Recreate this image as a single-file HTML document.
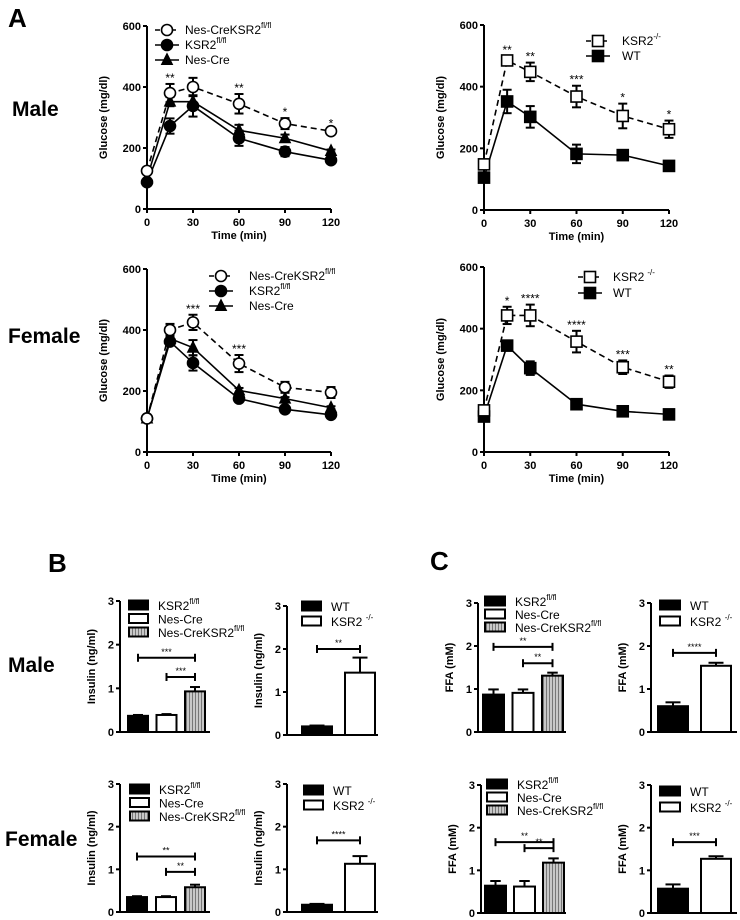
<!DOCTYPE html>
<html><head><meta charset="utf-8"><style>
html,body{margin:0;padding:0;background:#fff;}
svg{display:block;font-family:"Liberation Sans",Arial,sans-serif;}
.tk{font-size:11px;font-weight:bold;}
.ttl{font-size:11px;font-weight:bold;}
.lg{font-size:12px;}
.big{font-size:21px;font-weight:bold;}
</style></head><body>
<svg id="fig" width="740" height="920" viewBox="0 0 740 920" xmlns="http://www.w3.org/2000/svg">
<defs>
<pattern id="hatch" width="3" height="4" patternUnits="userSpaceOnUse">
<rect width="3" height="4" fill="#c8c8c8"/><rect width="1" height="4" fill="#777"/>
</pattern>
</defs>
<text class="big" x="8" y="27" style="font-size:26px">A</text>
<text class="big" x="48" y="572" style="font-size:26px">B</text>
<text class="big" x="430" y="570" style="font-size:26px">C</text>
<text class="big" x="12" y="116">Male</text>
<text class="big" x="8" y="343">Female</text>
<text class="big" x="8" y="672">Male</text>
<text class="big" x="5" y="846">Female</text>
</svg>
<script>
// ---------- Line chart data (glucose, mg/dl) ----------
const times = [0, 15, 30, 60, 90, 120];
const xTicks = [0, 30, 60, 90, 120];
const glucoseTicks = [0, 200, 400, 600];
// Male left
const mlNesKsr = [125, 380, 400, 345, 280, 255];
const mlNesKsrErr = [0, 30, 30, 32, 18, 5];
const mlKsrFl = [88, 272, 338, 232, 188, 160];
const mlKsrFlErr = [0, 25, 35, 25, 15, 5];
const mlNesCre = [100, 352, 352, 258, 232, 190];
const mlNesCreErr = [0, 15, 20, 18, 12, 5];
const mlStars = ['', '**', '', '**', '*', '*'];
// Male right
const mrKo = [148, 485, 448, 368, 305, 262];
const mrKoErr = [10, 15, 30, 35, 40, 28];
const mrWt = [105, 352, 302, 182, 178, 143];
const mrWtErr = [5, 38, 35, 30, 5, 5];
const mrStars = ['', '**', '**', '***', '*', '*'];
// Female left
const flNesKsr = [110, 400, 425, 290, 212, 195];
const flNesKsrErr = [0, 20, 25, 28, 18, 18];
const flKsrFl = [110, 362, 292, 175, 140, 122];
const flKsrFlErr = [0, 10, 25, 10, 5, 5];
const flNesCre = [110, 372, 342, 202, 175, 145];
const flNesCreErr = [0, 10, 25, 8, 5, 5];
const flStars = ['', '', '***', '***', '', ''];
// Female right
const frKo = [135, 443, 443, 358, 275, 228];
const frKoErr = [5, 28, 35, 35, 22, 20];
const frWt = [115, 345, 272, 155, 132, 122];
const frWtErr = [5, 10, 22, 5, 5, 5];
const frStars = ['', '*', '****', '****', '***', '**'];

// ---------- Bar chart data ----------
const barTicks = [0, 1, 2, 3];
const insMaleTrio = [0.37, 0.39, 0.93];
const insMaleTrioErr = [0.02, 0.02, 0.1];
const insMaleDuo = [0.2, 1.45];
const insMaleDuoErr = [0.02, 0.35];
const insFemTrio = [0.35, 0.35, 0.58];
const insFemTrioErr = [0.02, 0.02, 0.06];
const insFemDuo = [0.17, 1.13];
const insFemDuoErr = [0.02, 0.18];
const ffaMaleTrio = [0.87, 0.91, 1.31];
const ffaMaleTrioErr = [0.12, 0.08, 0.07];
const ffaMaleDuo = [0.6, 1.54];
const ffaMaleDuoErr = [0.09, 0.07];
const ffaFemTrio = [0.64, 0.62, 1.18];
const ffaFemTrioErr = [0.11, 0.13, 0.1];
const ffaFemDuo = [0.57, 1.27];
const ffaFemDuoErr = [0.1, 0.06];

const NS = 'http://www.w3.org/2000/svg';
const svg = document.getElementById('fig');
function el(tag, attrs, parent, text) {
  const e = document.createElementNS(NS, tag);
  for (const k in attrs) e.setAttribute(k, attrs[k]);
  if (text !== undefined) e.textContent = text;
  (parent || svg).appendChild(e);
  return e;
}
function marker(g, shape, filled, cx, cy, r) {
  const fill = filled ? '#000' : '#fff';
  let m;
  if (shape === 'circle') m = el('circle', {cx: cx, cy: cy, r: r, fill: fill, stroke: '#000', 'stroke-width': 1.6}, g);
  else if (shape === 'square') m = el('rect', {x: cx - r, y: cy - r, width: 2 * r, height: 2 * r, fill: fill, stroke: '#000', 'stroke-width': 1.6}, g);
  else m = el('polygon', {points: `${cx},${cy - r - 1} ${cx - r},${cy + r - 1} ${cx + r},${cy + r - 1}`, fill: fill, stroke: '#000', 'stroke-width': 1}, g);
  return m;
}
function supText(g, x, y, base, sup, supDx) {
  const t = el('text', {x: x, y: y, class: 'lg'}, g);
  el('tspan', {}, t, base);
  if (sup) el('tspan', {dy: -6, dx: supDx || 0, 'font-size': 8}, t, sup);
  return t;
}

function lineChart(cfg) {
  const g = el('g', {});
  
  
  const sx = v => cfg.x0 + (v - 0) / 120 * (cfg.x1 - cfg.x0);
  const sy = v => cfg.yb - v / 600 * (cfg.yb - cfg.yt);
  const ya = el('line', {x1: cfg.x0, y1: cfg.yt, x2: cfg.x0, y2: cfg.yb, stroke: '#000', 'stroke-width': 2}, g);
  
  
  const xa = el('line', {x1: cfg.x0, y1: cfg.yb, x2: cfg.x1, y2: cfg.yb, stroke: '#000', 'stroke-width': 2}, g);
  
  
  glucoseTicks.forEach(t => {
    el('line', {x1: cfg.x0 - 4, y1: sy(t), x2: cfg.x0, y2: sy(t), stroke: '#000', 'stroke-width': 2}, g);
    const tl = el('text', {x: cfg.x0 - 6, y: sy(t) + 4, 'text-anchor': 'end', class: 'tk'}, g, String(t));
    
    
  });
  xTicks.forEach(t => {
    el('line', {x1: sx(t), y1: cfg.yb, x2: sx(t), y2: cfg.yb + 4, stroke: '#000', 'stroke-width': 2}, g);
    const tl = el('text', {x: sx(t), y: cfg.yb + 17, 'text-anchor': 'middle', class: 'tk'}, g, String(t));
    
    
  });
  const xt = el('text', {x: (cfg.x0 + cfg.x1) / 2, y: cfg.yb + 30, 'text-anchor': 'middle', class: 'ttl', 'xml:space': 'preserve'}, g, 'Time  (min)');
  
  
  const ytx = cfg.x0 - 40, yty = (cfg.yt + cfg.yb) / 2;
  const yt = el('text', {x: ytx, y: yty, 'text-anchor': 'middle', class: 'ttl', transform: `rotate(-90 ${ytx} ${yty})`}, g, 'Glucose (mg/dl)');
  
  
  cfg.series.slice().reverse().forEach(s => {
    const sg = el('g', {}, g);
    
    
    const pts = times.map((t, i) => sx(t) + ',' + sy(s.vals[i])).join(' ');
    el('polyline', {points: pts, fill: 'none', stroke: '#000', 'stroke-width': 1.6, 'stroke-dasharray': s.dash ? '6,4' : 'none'}, sg);
    times.forEach((t, i) => {
      const e = s.err[i];
      if (e > 0) {
        el('line', {x1: sx(t), y1: sy(s.vals[i] - e), x2: sx(t), y2: sy(s.vals[i] + e), stroke: '#000', 'stroke-width': 2}, sg);
        el('line', {x1: sx(t) - 4.5, y1: sy(s.vals[i] + e), x2: sx(t) + 4.5, y2: sy(s.vals[i] + e), stroke: '#000', 'stroke-width': 2}, sg);
        el('line', {x1: sx(t) - 4.5, y1: sy(s.vals[i] - e), x2: sx(t) + 4.5, y2: sy(s.vals[i] - e), stroke: '#000', 'stroke-width': 2}, sg);
      }
      const m = marker(sg, s.shape, s.filled, sx(t), sy(s.vals[i]), 5.5);
      
      
    });
  });
  const top = cfg.series[0];
  cfg.stars.forEach((st, i) => {
    if (!st) return;
    const y = sy(top.vals[i] + top.err[i]) - 5;
    const s = el('text', {x: sx(times[i]), y: y + 3, 'text-anchor': 'middle', 'font-size': 12}, g, st);
    
    
  });
  cfg.series.forEach((s, i) => {
    const ly = cfg.ly + i * cfg.lgap;
    const lg = el('g', {}, g);
    
    
    el('line', {x1: cfg.lx - 12, y1: ly, x2: cfg.lx + 12, y2: ly, stroke: '#000', 'stroke-width': 1.6, 'stroke-dasharray': s.dash ? '5,3' : 'none'}, lg);
    marker(lg, s.shape, s.filled, cfg.lx, ly, 5.5);
    supText(lg, cfg.lx + cfg.ltx, ly + 4, s.label, s.sup, s.supDx);
  });
}

lineChart({name: 'male-conditional-glucose-chart', x0: 147, x1: 331, yt: 26, yb: 209, lx: 167, ly: 30, lgap: 15, ltx: 18, stars: mlStars,
  series: [
    {id: 'nes-cre-ksr2', vals: mlNesKsr, err: mlNesKsrErr, shape: 'circle', filled: false, dash: true, label: 'Nes-CreKSR2', sup: 'fl/fl'},
    {id: 'ksr2-flfl', vals: mlKsrFl, err: mlKsrFlErr, shape: 'circle', filled: true, label: 'KSR2', sup: 'fl/fl'},
    {id: 'nes-cre', vals: mlNesCre, err: mlNesCreErr, shape: 'tri', filled: true, label: 'Nes-Cre'}]});
lineChart({name: 'male-knockout-glucose-chart', x0: 484, x1: 669, yt: 25, yb: 210, lx: 598, ly: 41, lgap: 15, ltx: 24, stars: mrStars,
  series: [
    {id: 'ksr2-ko', vals: mrKo, err: mrKoErr, shape: 'square', filled: false, dash: true, label: 'KSR2', sup: '-/-'},
    {id: 'wt', vals: mrWt, err: mrWtErr, shape: 'square', filled: true, label: 'WT'}]});
lineChart({name: 'female-conditional-glucose-chart', x0: 147, x1: 331, yt: 269, yb: 452, lx: 221, ly: 276, lgap: 15, ltx: 28, stars: flStars,
  series: [
    {id: 'nes-cre-ksr2', vals: flNesKsr, err: flNesKsrErr, shape: 'circle', filled: false, dash: true, label: 'Nes-CreKSR2', sup: 'fl/fl'},
    {id: 'ksr2-flfl', vals: flKsrFl, err: flKsrFlErr, shape: 'circle', filled: true, label: 'KSR2', sup: 'fl/fl'},
    {id: 'nes-cre', vals: flNesCre, err: flNesCreErr, shape: 'tri', filled: true, label: 'Nes-Cre'}]});
lineChart({name: 'female-knockout-glucose-chart', x0: 484, x1: 669, yt: 267, yb: 452, lx: 590, ly: 277, lgap: 16, ltx: 23, stars: frStars,
  series: [
    {id: 'ksr2-ko', vals: frKo, err: frKoErr, shape: 'square', filled: false, dash: true, label: 'KSR2', sup: '-/-', supDx: 3},
    {id: 'wt', vals: frWt, err: frWtErr, shape: 'square', filled: true, label: 'WT'}]});

const fills = ['#000', '#fff', 'url(#hatch)'];
const trioLabels = [['KSR2', 'fl/fl'], ['Nes-Cre', ''], ['Nes-CreKSR2', 'fl/fl']];
const duoLabels = [['WT', ''], ['KSR2 ', '-/-']];
function barChart(cfg) {
  const g = el('g', {});
  
  
  const sy = v => cfg.yb - v / 3 * (cfg.yb - cfg.yt);
  const ya = el('line', {x1: cfg.x0, y1: cfg.yt, x2: cfg.x0, y2: cfg.yb, stroke: '#000', 'stroke-width': 2}, g);
  
  
  const xa = el('line', {x1: cfg.x0, y1: cfg.yb, x2: cfg.x1, y2: cfg.yb, stroke: '#000', 'stroke-width': 2}, g);
  
  
  barTicks.forEach(t => {
    el('line', {x1: cfg.x0 - 4, y1: sy(t), x2: cfg.x0, y2: sy(t), stroke: '#000', 'stroke-width': 2}, g);
    const tl = el('text', {x: cfg.x0 - 6, y: sy(t) + 4, 'text-anchor': 'end', class: 'tk'}, g, String(t));
    
    
  });
  const ytx = cfg.x0 - 25, yty = (cfg.yt + cfg.yb) / 2;
  const yt = el('text', {x: ytx, y: yty, 'text-anchor': 'middle', class: 'ttl', transform: `rotate(-90 ${ytx} ${yty})`}, g, cfg.ytitle);
  
  
  const n = cfg.vals.length;
  const centers = [];
  cfg.vals.forEach((v, i) => {
    const bx = cfg.bx + i * cfg.step;
    const cx = bx + cfg.bw / 2;
    centers.push(cx);
    const e = cfg.err[i];
    el('line', {x1: cx, y1: sy(v), x2: cx, y2: sy(v + e), stroke: '#000', 'stroke-width': 2}, g);
    el('line', {x1: cx - cfg.bw / 4, y1: sy(v + e), x2: cx + cfg.bw / 4, y2: sy(v + e), stroke: '#000', 'stroke-width': 2}, g);
    const b = el('rect', {x: bx, y: sy(v), width: cfg.bw, height: cfg.yb - sy(v), fill: fills[i], stroke: '#000', 'stroke-width': 2}, g);
    
    
  });
  cfg.brackets.forEach(br => {
    const y = sy(br.y);
    const x1 = centers[br.a], x2 = centers[br.b];
    const bg = el('g', {}, g);
    
    
    el('line', {x1: x1, y1: y, x2: x2, y2: y, stroke: '#000', 'stroke-width': 2}, bg);
    el('line', {x1: x1, y1: y - 4, x2: x1, y2: y + 4, stroke: '#000', 'stroke-width': 2}, bg);
    el('line', {x1: x2, y1: y - 4, x2: x2, y2: y + 4, stroke: '#000', 'stroke-width': 2}, bg);
    el('text', {x: (x1 + x2) / 2, y: y - 3, 'text-anchor': 'middle', 'font-size': 9}, bg, br.s);
  });
  const labels = n === 3 ? trioLabels : duoLabels;
  labels.forEach((lb, i) => {
    const ly = cfg.ly + i * cfg.lgap;
    const lg = el('g', {}, g);
    
    
    el('rect', {x: cfg.lx, y: ly - 4.5, width: cfg.lw, height: 9, fill: fills[i], stroke: '#000', 'stroke-width': 2}, lg);
    supText(lg, cfg.lx + cfg.lw + 10, ly + 5, lb[0], lb[1]);
  });
}
const ins = 'Insulin (ng/ml)', ffa = 'FFA (mM)';
barChart({name: 'male-insulin-conditional', x0: 120, x1: 210, yt: 601, yb: 732, bx: 128, bw: 20, step: 28.5, vals: insMaleTrio, err: insMaleTrioErr, ytitle: ins, lx: 129, lw: 19, ly: 605, lgap: 13.5,
  brackets: [{a: 0, b: 2, y: 1.7, s: '***'}, {a: 1, b: 2, y: 1.26, s: '***'}]});
barChart({name: 'male-insulin-knockout', x0: 287, x1: 378, yt: 606, yb: 735, bx: 302, bw: 30, step: 43, vals: insMaleDuo, err: insMaleDuoErr, ytitle: ins, lx: 302, lw: 19, ly: 606, lgap: 15,
  brackets: [{a: 0, b: 1, y: 2.0, s: '**'}]});
barChart({name: 'female-insulin-conditional', x0: 120, x1: 210, yt: 784, yb: 912, bx: 127, bw: 20, step: 29, vals: insFemTrio, err: insFemTrioErr, ytitle: ins, lx: 130, lw: 19, ly: 789, lgap: 13.5,
  brackets: [{a: 0, b: 2, y: 1.3, s: '**'}, {a: 1, b: 2, y: 0.94, s: '**'}]});
barChart({name: 'female-insulin-knockout', x0: 287, x1: 378, yt: 784, yb: 912, bx: 302, bw: 30, step: 43, vals: insFemDuo, err: insFemDuoErr, ytitle: ins, lx: 304, lw: 19, ly: 790, lgap: 15,
  brackets: [{a: 0, b: 1, y: 1.68, s: '****'}]});
barChart({name: 'male-ffa-conditional', x0: 478, x1: 566, yt: 603, yb: 732, bx: 483, bw: 21, step: 29.5, vals: ffaMaleTrio, err: ffaMaleTrioErr, ytitle: ffa, lx: 485, lw: 20, ly: 601, lgap: 13,
  brackets: [{a: 0, b: 2, y: 1.98, s: '**'}, {a: 1, b: 2, y: 1.6, s: '**'}]});
barChart({name: 'male-ffa-knockout', x0: 651, x1: 737, yt: 603, yb: 732, bx: 658, bw: 30, step: 43, vals: ffaMaleDuo, err: ffaMaleDuoErr, ytitle: ffa, lx: 660, lw: 20, ly: 605, lgap: 16,
  brackets: [{a: 0, b: 1, y: 1.84, s: '****'}]});
barChart({name: 'female-ffa-conditional', x0: 481, x1: 566, yt: 785, yb: 913, bx: 485, bw: 21, step: 29, vals: ffaFemTrio, err: ffaFemTrioErr, ytitle: ffa, lx: 487, lw: 20, ly: 784, lgap: 13,
  brackets: [{a: 0, b: 2, y: 1.66, s: '**'}, {a: 1, b: 2, y: 1.52, s: '**'}]});
barChart({name: 'female-ffa-knockout', x0: 651, x1: 737, yt: 785, yb: 913, bx: 658, bw: 30, step: 43, vals: ffaFemDuo, err: ffaFemDuoErr, ytitle: ffa, lx: 660, lw: 20, ly: 791, lgap: 16,
  brackets: [{a: 0, b: 1, y: 1.66, s: '***'}]});
</script>
</body></html>
